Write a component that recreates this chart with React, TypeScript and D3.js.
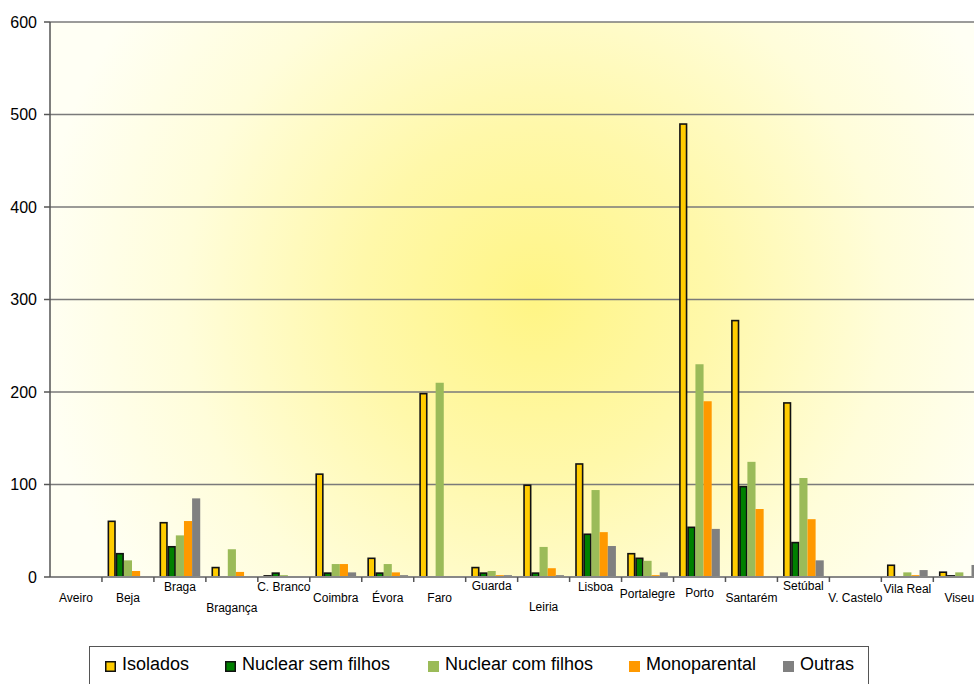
import React from "react";
import * as d3 from "d3";

const categories = ["Aveiro", "Beja", "Braga", "Bragança", "C. Branco", "Coimbra", "Évora", "Faro", "Guarda", "Leiria", "Lisboa", "Portalegre", "Porto", "Santarém", "Setúbal", "V. Castelo", "Vila Real", "Viseu"];
const seriesNames = ["Isolados", "Nuclear sem filhos", "Nuclear com filhos", "Monoparental", "Outras"];
const isolados = [0, 61, 59.5, 11, 2, 112, 21, 199, 11, 100, 123, 26, 490.5, 278, 189, 0, 13.5, 6];
const nuclearSemFilhos = [0, 26, 33.5, 0, 5, 5, 5, 0, 5, 5, 47, 21, 54.5, 98.5, 38, 0, 0, 2];
const nuclearComFilhos = [0, 18, 45, 30, 2, 14, 14, 210, 6.5, 32.5, 94, 17.5, 230, 124.5, 107, 0, 5, 5];
const monoparental = [0, 6.5, 60.5, 5.5, 0, 14, 5, 0, 2, 9.5, 48.5, 2, 190, 73.5, 62.5, 0, 2, 0];
const outras = [0, 0, 85, 0, 0, 5, 2, 0, 2, 2, 33.5, 5, 52, 0, 18, 0, 7.5, 13];
const yTicks = [0, 100, 200, 300, 400, 500, 600];

// layout-only: vertical row of each category label (Excel staggering)
const labelRowY = [598, 598, 586.5, 607.5, 586.5, 598, 598, 598, 586, 607, 587, 593.5, 593, 598, 586, 598, 589, 598];
const legendX = [105, 225, 428, 629, 783];

const colors = ["#FFCC00", "#008000", "#9BBB59", "#FF9900", "#808080"];
const bordered = [true, true, false, false, false];

const seriesValues = [isolados, nuclearSemFilhos, nuclearComFilhos, monoparental, outras];

export default function App() {
  const W = 974, H = 684;
  const left = 50, top = 22, bottom = 577;
  const step = 51.96;
  const x = d3.scaleBand<string>().domain(categories).range([left, left + step * categories.length]).padding(0);
  const inner = d3.scaleBand<string>().domain(seriesNames).range([0, x.bandwidth()]).paddingInner(0).paddingOuter(0.695);
  const y = d3.scaleLinear().domain([0, 600]).range([bottom, top]);
  const font = "Arial, 'Liberation Sans', Helvetica, sans-serif";
  const plotRight = left + step * categories.length;

  return (
    <svg width={W} height={H} style={{ position: "absolute", left: 0, top: 0, display: "block" }} fontFamily={font}>
      <defs>
        <radialGradient id="bg" gradientUnits="userSpaceOnUse" cx={535} cy={300} r={500}>
          <stop offset="0" stopColor="#FFF585" />
          <stop offset="0.35" stopColor="#FFF8AA" />
          <stop offset="0.7" stopColor="#FFFDDA" />
          <stop offset="1" stopColor="#FFFFF4" />
        </radialGradient>
      </defs>
      <rect x={0} y={0} width={W} height={H} fill="#fff" />
      <rect x={left} y={top} width={plotRight - left} height={bottom - top} fill="url(#bg)" />
      {yTicks.filter(t => t > 0).map(t => (
        <line key={t} x1={left} x2={plotRight} y1={y(t)} y2={y(t)} stroke="#7a7a7a" strokeWidth={1.5} />
      ))}
      {yTicks.map(t => (
        <g key={"yt" + t}>
          <line x1={left - 6} x2={left} y1={y(t)} y2={y(t)} stroke="#555" strokeWidth={1.5} />
          <text x={37} y={y(t)} textAnchor="end" dominantBaseline="central" fontSize={16} fill="#000">{t}</text>
        </g>
      ))}
      {categories.map((c, i) => (
        <g key={c}>
          {seriesValues.map((vals, s) => {
            const v = vals[i];
            if (!v) return null;
            const bx = (x(c) as number) + (inner(seriesNames[s]) as number);
            const bw = inner.bandwidth();
            const y0 = y(v);
            if (bordered[s]) {
              return <rect key={s} x={bx + 0.75} y={y0 + 0.75} width={bw - 1.5} height={Math.max(0, y(0) - y0 - 0.75)} fill={colors[s]} stroke="#111" strokeWidth={1.6} />;
            }
            return <rect key={s} x={bx} y={y0} width={bw} height={y(0) - y0} fill={colors[s]} />;
          })}
        </g>
      ))}
      <line x1={left} x2={plotRight} y1={bottom} y2={bottom} stroke="#888" strokeWidth={2} />
      <line x1={left} x2={left} y1={top} y2={bottom} stroke="#555" strokeWidth={1.5} />
      {categories.map((c) => (
        <line key={"xt" + c} x1={(x(c) as number) + step} x2={(x(c) as number) + step} y1={bottom} y2={bottom + 5} stroke="#555" strokeWidth={1.5} />
      ))}
      {categories.map((c, i) => (
        <text key={"xl" + c} x={(x(c) as number) + step / 2} y={labelRowY[i]} textAnchor="middle" dominantBaseline="central" fontSize={12} fill="#000">{c}</text>
      ))}
      <rect x={89.5} y={646.5} width={779} height={60} fill="#fff" stroke="#555" strokeWidth={1} />
      {seriesNames.map((s, i) => (
        <g key={"lg" + s}>
          <rect x={legendX[i] + (bordered[i] ? 0.75 : 0)} y={661 + (bordered[i] ? 0.75 : 0)} width={bordered[i] ? 9.5 : 11} height={bordered[i] ? 9.5 : 11} fill={colors[i]} stroke={bordered[i] ? "#111" : "none"} strokeWidth={1.5} />
          <text x={legendX[i] + 17} y={664} dominantBaseline="central" fontSize={18} fill="#000">{s}</text>
        </g>
      ))}
    </svg>
  );
}
